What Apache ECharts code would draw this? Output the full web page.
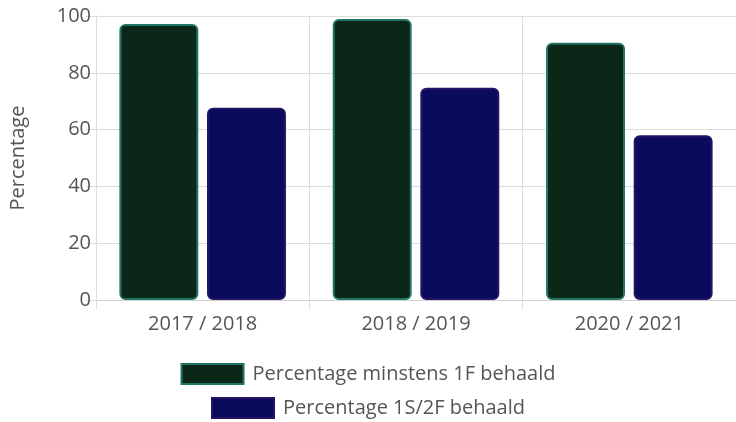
<!DOCTYPE html>
<html>
<head>
<meta charset="utf-8">
<script src="https://cdn.jsdelivr.net/npm/echarts@6/dist/echarts.min.js"></script>
<style>
  html, body { margin: 0; padding: 0; background: #fff; }
  #chart { width: 736px; height: 422px; }
</style>
</head>
<body>
<div id="chart"></div>
<script>
const categories = ['2017 / 2018', '2018 / 2019', '2020 / 2021'];
const seriesNames = ['Percentage minstens 1F behaald', 'Percentage 1S/2F behaald'];
const minstens1F = [97.2, 98.9, 90.6];
const behaald1S2F = [67.7, 74.7, 58.0];
const yTicks = [0, 20, 40, 60, 80, 100];

const FONT = '"Open Sans", sans-serif';
const GRID_COLOR = '#dcdcdc';
const TEXT_COLOR = '#555';

const chart = echarts.init(document.getElementById('chart'));

const legendBase = {
  left: 'center',
  itemWidth: 62,
  itemHeight: 20,
  itemGap: 10,
  icon: 'rect',
  selectedMode: false,
  itemStyle: { borderRadius: 0 },
  textStyle: { fontSize: 20, color: TEXT_COLOR, fontFamily: FONT, padding: [0, 0, 0, 4] }
};

const option = {
  animation: false,
  textStyle: { fontFamily: FONT },
  grid: { left: 95, right: -12, top: 16, bottom: 122, containLabel: false },
  legend: [
    Object.assign({}, legendBase, { data: [seriesNames[0]], top: 358 }),
    Object.assign({}, legendBase, { data: [seriesNames[1]], top: 392 })
  ],
  xAxis: {
    type: 'category',
    data: categories,
    axisLine: { show: true, lineStyle: { color: '#cfcfcf' } },
    axisTick: { show: true, length: 9, lineStyle: { color: GRID_COLOR } },
    splitLine: { show: true, lineStyle: { color: GRID_COLOR } },
    axisLabel: { fontSize: 20, color: TEXT_COLOR, margin: 14, fontFamily: FONT }
  },
  yAxis: {
    type: 'value',
    min: yTicks[0],
    max: yTicks[yTicks.length - 1],
    interval: 20,
    name: 'Percentage',
    nameLocation: 'middle',
    nameGap: 68,
    nameTextStyle: { fontSize: 20, color: TEXT_COLOR, fontFamily: FONT },
    axisLine: { show: true, lineStyle: { color: GRID_COLOR } },
    axisTick: { show: true, length: 10, lineStyle: { color: GRID_COLOR } },
    splitLine: { show: true, lineStyle: { color: GRID_COLOR } },
    axisLabel: { fontSize: 20, color: TEXT_COLOR, margin: 5, fontFamily: FONT }
  },
  series: [
    {
      name: seriesNames[0],
      type: 'bar',
      data: minstens1F,
      barWidth: '37%',
      barGap: '11%',
      itemStyle: {
        color: '#0a2717',
        borderColor: '#1f7566',
        borderWidth: 2,
        borderRadius: 5
      }
    },
    {
      name: seriesNames[1],
      type: 'bar',
      data: behaald1S2F,
      barWidth: '37%',
      itemStyle: {
        color: '#0b0b5e',
        borderColor: '#241466',
        borderWidth: 2,
        borderRadius: 5
      }
    }
  ]
};

chart.setOption(option);
</script>
</body>
</html>
